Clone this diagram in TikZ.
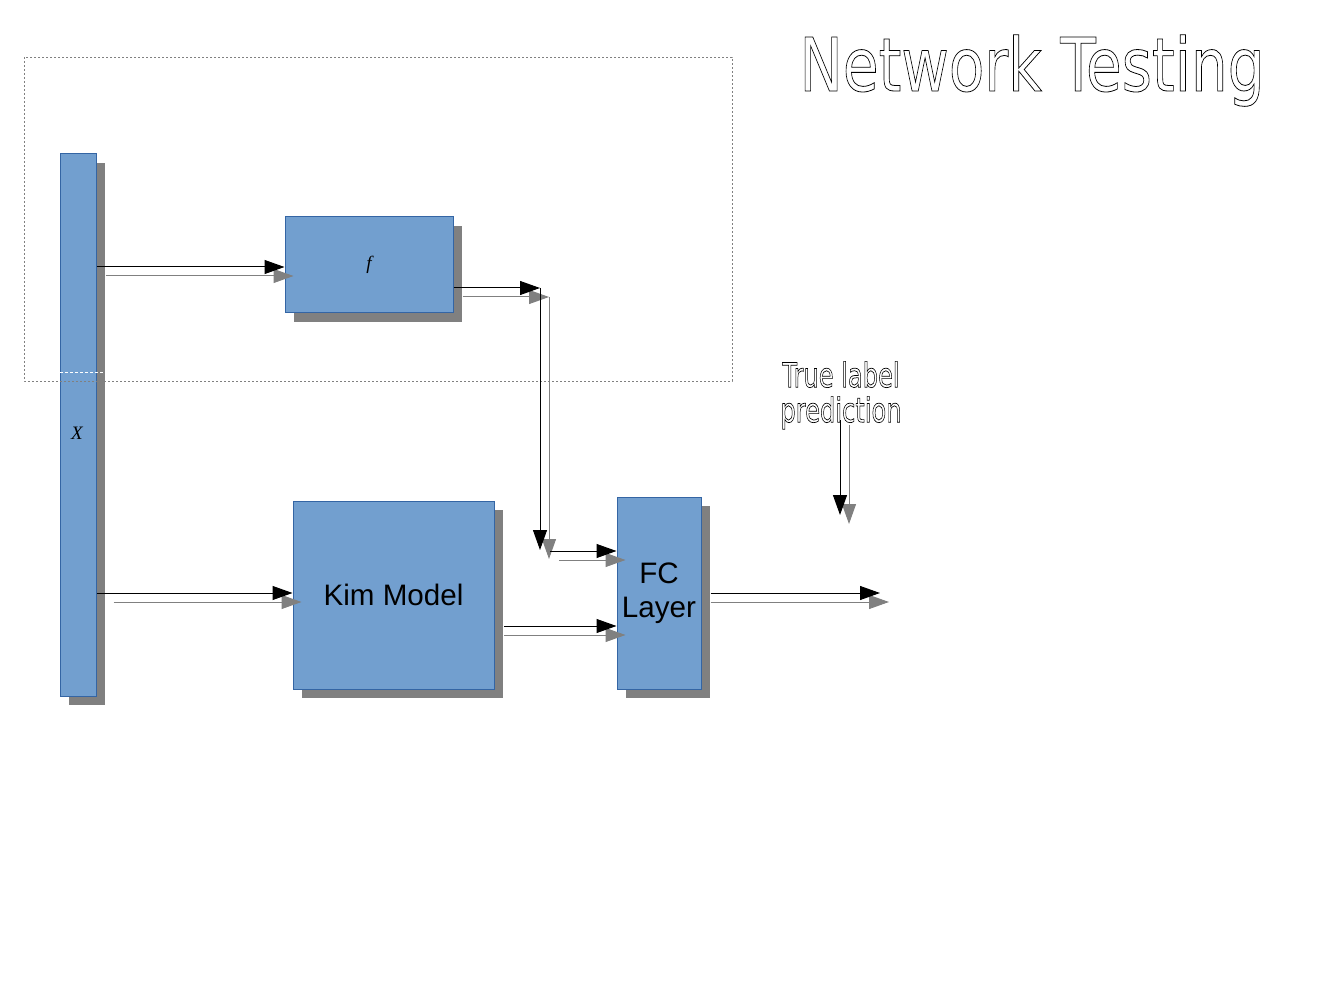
\documentclass[tikz,border=0pt]{standalone}
\usepackage{fontspec}
\setmainfont{Liberation Sans}
\newfontfamily\hollowfont{DejaVu Sans}
\newfontfamily\varfont{Liberation Serif}
\usetikzlibrary{shadows,arrows.meta}

\definecolor{boxfill}{RGB}{114,159,207}
\definecolor{boxline}{RGB}{52,101,164}
\definecolor{shadowgray}{RGB}{128,128,128}

% stroked (hollow) glyphs
\newcommand{\hollow}[1]{\special{pdf:literal direct 1 Tr}#1\special{pdf:literal direct 0 Tr}}

\tikzset{every picture/.style={line width=1pt}}
\tikzset{
  block/.style={draw=boxline, fill=boxfill, line width=1pt, inner sep=0pt,
    drop shadow={shadow xshift=9pt, shadow yshift=-9pt, fill=shadowgray, opacity=1}},
  conn/.style={line width=1pt, -{Triangle[length=20pt,width=14pt]}},
  connshade/.style={conn, color=shadowgray, transform canvas={xshift=9pt,yshift=-9pt}},
  boxtext/.style={font=\fontsize{29.6}{33.5}\selectfont, align=center},
  vartext/.style={font=\varfont\itshape\fontsize{19}{19}\selectfont, inner sep=0pt}
}

\begin{document}
\begin{tikzpicture}[x=1pt,y=1pt,yscale=-1]
\useasboundingbox (0,0) rectangle (1323,992);

%Shape: Rectangle [x]
\node[block, minimum width=36, minimum height=542] (xbar) at (78,425) {};
\node[vartext] (xlbl) at (77,433) {X};
%Shape: Rectangle [f]
\node[block, minimum width=168, minimum height=96] (fbox) at (369,265) {};
\node[vartext] (flbl) at (369,265) {f};
%Shape: Rectangle [Kim Model]
\node[block, boxtext, minimum width=201, minimum height=188] (kim) at (393.5,595) {Kim Model};
%Shape: Rectangle [FC Layer]
\node[block, boxtext, minimum width=84, minimum height=192] (fc) at (659,593) {FC\\Layer};

%Dashed group frame
\draw[shadowgray, line width=0.8pt, dash pattern=on 2pt off 2pt] (24,57) rectangle (732,381);
\draw[white, line width=0.8pt, dash pattern=on 3pt off 2pt] (60,372) -- (105,372);

% Text Node
\node[anchor=base, inner sep=0pt, line width=0.8pt] (title) at (1032,91)
  {\scalebox{0.785}[1]{\hollowfont\fontsize{74}{74}\selectfont\hollow{Network Testing}}};
% Text Node
\node[anchor=north, inner sep=0pt, align=center, line width=0.7pt,
  font=\hollowfont\fontsize{34}{35}\selectfont] (lbl) at (841,361)
  {\scalebox{0.71}[1]{\hollow{True label}}\\\scalebox{0.71}[1]{\hollow{prediction}}};

%Free ends
\coordinate (fin) at ([yshift=2pt]fbox.west);
\coordinate (kin) at ([yshift=-2pt]kim.west);
\coordinate (bend) at (540,288);
\coordinate (drop) at (540,550);
\coordinate (fcin) at (550,551);
\coordinate (kimout) at (504,626);
\coordinate (out) at (880,593);
\coordinate (lblfoot) at (840,420);
\coordinate (tgt) at (840,515);

%Straight Lines (shadows)
\draw[connshade] (xbar.east |- fin) -- (fin);
\draw[connshade] (fbox.east |- bend) -- (bend);
\draw[connshade] (bend) -- (drop);
\draw[connshade] (fcin) -- (fcin -| fc.west);
\draw[connshade] ([xshift=8pt]xbar.east |- kin) -- (kin);
\draw[connshade] ([xshift=-9pt]kimout) -- (kimout -| fc.west);
\draw[connshade] (fc.east) -- (out);
\draw[connshade] ([yshift=-4pt]lblfoot) -- (tgt);

%Straight Lines
\draw[conn] (xbar.east |- fin) -- (fin);
\draw[conn] (fbox.east |- bend) -- (bend);
\draw[conn] (bend) -- (drop);
\draw[conn] (fcin) -- (fcin -| fc.west);
\draw[conn] (xbar.east |- kin) -- (kin);
\draw[conn] (kimout) -- (kimout -| fc.west);
\draw[conn] ([xshift=9pt]fc.east) -- (out);
\draw[conn] (lblfoot) -- (tgt);

\end{tikzpicture}
\end{document}
